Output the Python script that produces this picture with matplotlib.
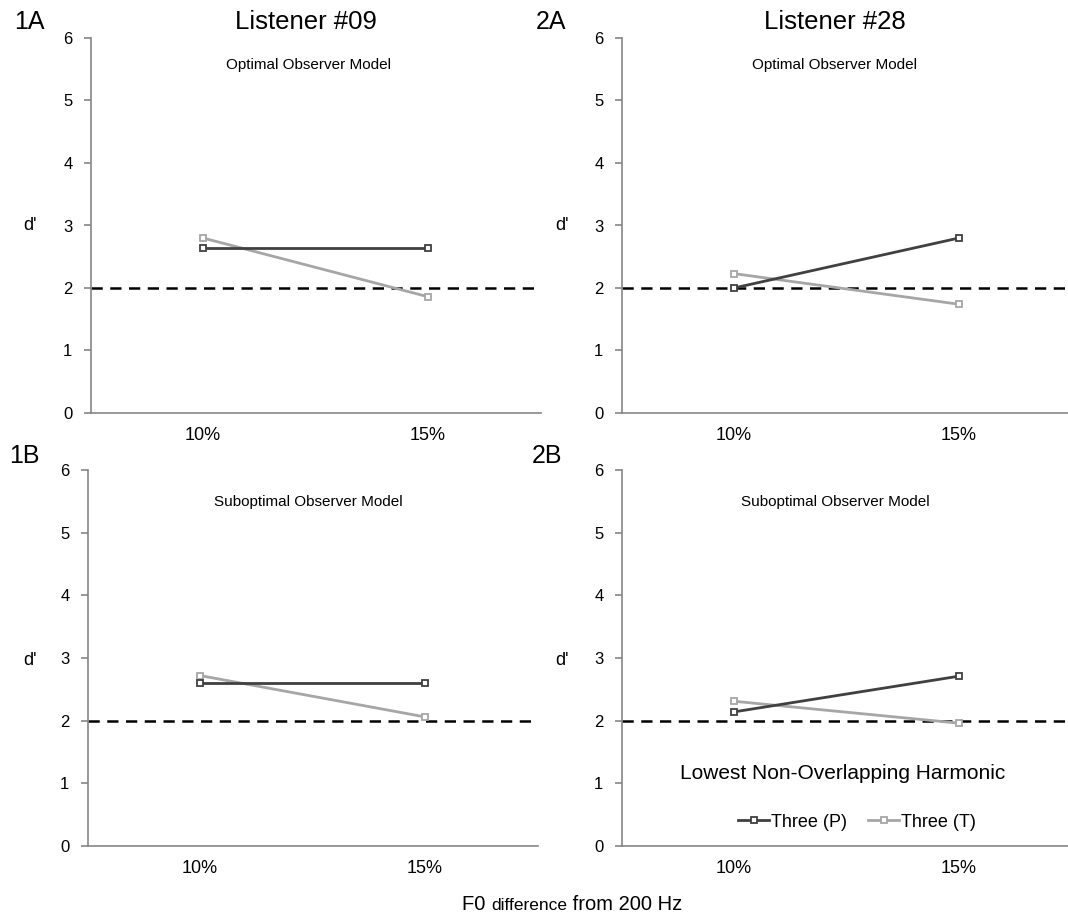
import matplotlib
matplotlib.use("Agg")
import matplotlib.pyplot as plt

plt.rcParams['font.family'] = ['Liberation Sans', 'DejaVu Sans']

categories = ["10%", "15%"]
yticks = [0, 1, 2, 3, 4, 5, 6]
criterion = 2.0

p_1a = [2.64, 2.64]
t_1a = [2.80, 1.86]
p_2a = [2.00, 2.80]
t_2a = [2.23, 1.74]
p_1b = [2.60, 2.60]
t_1b = [2.72, 2.06]
p_2b = [2.14, 2.71]
t_2b = [2.31, 1.96]

series_names = ["Three (P)", "Three (T)"]
listeners = ["Listener #09", "Listener #28"]
models = ["Optimal Observer Model", "Suboptimal Observer Model"]
panel_labels = ["1A", "2A", "1B", "2B"]

P_COLOR = "#404040"
T_COLOR = "#a6a6a6"
AX_COLOR = "#868686"

W, H = 1068, 922
fig = plt.figure(figsize=(W / 100, H / 100), dpi=100)


def px_axes(left, top, right, bottom):
    return fig.add_axes([left / W, 1 - bottom / H, (right - left) / W, (bottom - top) / H])


axes = {
    "1A": px_axes(90.5, 38, 540.5, 413),
    "2A": px_axes(621.5, 38, 1071.5, 413),
    "1B": px_axes(87.5, 470, 537.5, 846),
    "2B": px_axes(621.5, 470, 1071.5, 846),
}
data = {
    "1A": (p_1a, t_1a),
    "2A": (p_2a, t_2a),
    "1B": (p_1b, t_1b),
    "2B": (p_2b, t_2b),
}

x = [0, 1]
for key, ax in axes.items():
    p, t = data[key]
    ax.axhline(criterion, color="black", lw=1.8, ls=(0, (4.5, 3)), zorder=1)
    ax.plot(x, t, color=T_COLOR, lw=2, marker="s", ms=5, mfc="white",
            mec=T_COLOR, mew=1.3, label=series_names[1], zorder=3)
    ax.plot(x, p, color=P_COLOR, lw=2, marker="s", ms=5, mfc="white",
            mec=P_COLOR, mew=1.3, label=series_names[0], zorder=4)
    ax.set_xlim(-0.5, 1.5)
    ax.set_ylim(0, 6)
    ax.set_yticks(yticks)
    ax.set_xticks(x)
    ax.set_xticklabels(categories)
    for s in ["top", "right"]:
        ax.spines[s].set_visible(False)
    for s in ["left", "bottom"]:
        ax.spines[s].set_color(AX_COLOR)
        ax.spines[s].set_linewidth(1.2)
    ax.tick_params(axis="y", direction="out", length=5, width=1.2, color=AX_COLOR,
                   labelsize=12, pad=8)
    ax.tick_params(axis="x", length=0, labelsize=13, pad=10)
    ax.set_facecolor("none")

# d' labels
for xp, yp in [(30, 225), (562, 225), (30, 660), (562, 660)]:
    fig.text(xp / W, 1 - yp / H, "d'", fontsize=13, ha="center", va="center")

# panel labels
for lab, (xp, yp) in zip(panel_labels, [(29, 22), (551, 22), (24, 456), (547, 456)]):
    fig.text(xp / W, 1 - yp / H, lab, fontsize=18, ha="center", va="center")

# listener titles
fig.text(306 / W, 1 - 22 / H, listeners[0], fontsize=18.5, ha="center", va="center")
fig.text(835 / W, 1 - 22 / H, listeners[1], fontsize=18.5, ha="center", va="center")

# model subtitles
for xp in [308, 835]:
    fig.text(xp / W, 1 - 65 / H, models[0], fontsize=11, ha="center", va="center")
    fig.text(xp / W, 1 - 502 / H, models[1], fontsize=11, ha="center", va="center")

# legend in 2B
ax2b = axes["2B"]
fig.text(843 / W, 1 - 773 / H, "Lowest Non-Overlapping Harmonic", fontsize=15,
         ha="center", va="center")
handles, labels = ax2b.get_legend_handles_labels()
order = [1, 0]
leg = ax2b.legend([handles[i] for i in order], [labels[i] for i in order],
                  loc="center", bbox_to_anchor=((857 - 621.5) / 450, (846 - 822) / 376),
                  ncol=2, frameon=False, fontsize=13, handlelength=1.7,
                  handletextpad=0.1, columnspacing=1.2, borderaxespad=0)

# x axis title with mixed sizes, on a shared baseline
renderer = fig.canvas.get_renderer()
base_y = 1 - 910 / H
cur_x = 462 / W
for txt, fs in [("F0 ", 14.5), ("difference", 12.5), (" from 200 Hz", 14.5)]:
    t = fig.text(cur_x, base_y, txt, fontsize=fs, ha="left", va="baseline")
    bb = t.get_window_extent(renderer=renderer)
    cur_x = bb.x1 / (W)

fig.savefig("out.png", dpi=100)
